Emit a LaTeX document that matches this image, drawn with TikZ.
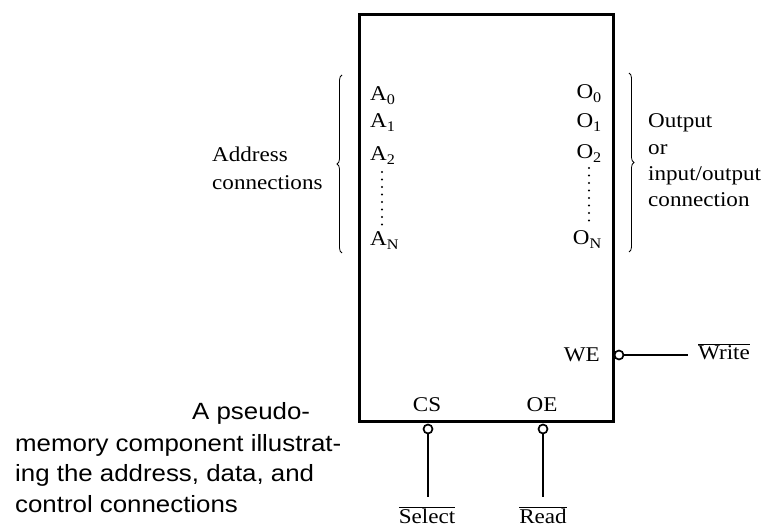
\documentclass[tikz,border=0pt]{standalone}
\usepackage{fontspec}
\setmainfont[FakeStretch=1.1]{Liberation Serif}
\newfontfamily\capfont[FakeStretch=1.1]{Liberation Sans}
\usetikzlibrary{decorations.pathreplacing,calc}
\begin{document}
\begin{tikzpicture}[x=1pt,y=-1pt,
  lbl/.style={font=\fontsize{21}{27}\selectfont, inner sep=0pt},
  captxt/.style={font=\capfont\fontsize{23.5}{30}\selectfont, inner sep=0pt, anchor=base west},
  pin/.style={circle, draw, line width=1.7pt, inner sep=0pt, minimum size=9pt, fill=white},
  wire/.style={line width=1.2pt},
  brc/.style={decorate, decoration={brace, amplitude=5pt}, line width=0.8pt},
  dotline/.style={line width=2.3pt, line cap=round, dash pattern=on 0pt off 7.5pt}]
\useasboundingbox (0,0) rectangle (761,529);
% memory box
\node[draw, line width=2.7pt, minimum width=254pt, minimum height=407pt, anchor=north west, inner sep=0pt] (box) at (358,13) {};
% address pins
\node[lbl, anchor=base west] (a0) at (370,101) {A\textsubscript{0}};
\node[lbl, anchor=base west] (a1) at (370,128) {A\textsubscript{1}};
\node[lbl, anchor=base west] (a2) at (370,161) {A\textsubscript{2}};
\node[lbl, anchor=base west] (aN) at (370,246) {A\textsubscript{N}};
\draw[dotline] ($(a2.base west)+(12,11)$) -- ($(aN.base west)+(12,-21)$);
% output pins
\node[lbl, anchor=base east] (o0) at (602,99) {O\textsubscript{0}};
\node[lbl, anchor=base east] (o1) at (602,128) {O\textsubscript{1}};
\node[lbl, anchor=base east] (o2) at (602,159) {O\textsubscript{2}};
\node[lbl, anchor=base east] (oN) at (602,245) {O\textsubscript{N}};
\draw[dotline] ($(o2.base east)+(-13,9)$) -- ($(oN.base east)+(-13,-22)$);
% braces
\coordinate (lbt) at (342,75);
\coordinate (lbb) at (342,253);
\draw[brc] (lbb) -- (lbt);
\coordinate (rbt) at (629,73);
\coordinate (rbb) at (629,252);
\draw[brc] (rbt) -- (rbb);
% group labels
\node[lbl, anchor=base west] (addr1) at (212,162) {Address};
\node[lbl, anchor=base west] (addr2) at (212,190) {connections};
\node[lbl, anchor=base west] (out1) at (648,128) {Output};
\node[lbl, anchor=base west] (out2) at (648,155) {or};
\node[lbl, anchor=base west] (out3) at (648,181) {input/output};
\node[lbl, anchor=base west] (out4) at (648,207) {connection};
% control pins
\node[lbl, anchor=base east] (we) at (600,362) {WE};
\node[lbl, anchor=base] (cs) at (427,412) {CS};
\node[lbl, anchor=base] (oe) at (542,412) {OE};
\node[pin] (web) at (619,355) {};
\node[pin] (csb) at (428,429) {};
\node[pin] (oeb) at (543,429) {};
\coordinate (wrend) at (688,355);
\coordinate (selend) at (428,497);
\coordinate (rdend) at (543,497);
\draw[wire] (web.east) -- (wrend);
\draw[wire] (csb.south) -- (selend);
\draw[wire] (oeb.south) -- (rdend);
\node[lbl, anchor=base west] (write) at (698,360) {$\overline{\mbox{Write}}$};
\node[lbl, anchor=base] (select) at (427,523) {$\overline{\mbox{S}}\overline{\mbox{elect}}$};
\node[lbl, anchor=base] (read) at (543,523) {$\overline{\mbox{Read}}$};
% caption
\node[captxt] (c1) at (192,420) {A pseudo-};
\node[captxt] (c2) at (15,452) {memory component illustrat-};
\node[captxt] (c3) at (15,481) {ing the address, data, and};
\node[captxt] (c4) at (15,512) {control connections};
\end{tikzpicture}
\end{document}
